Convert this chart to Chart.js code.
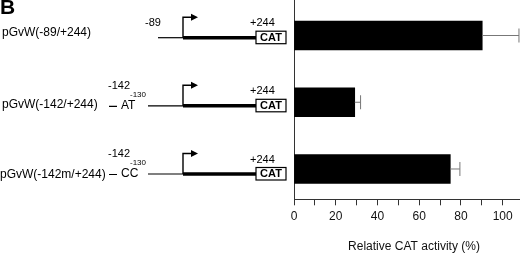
<!DOCTYPE html>
<html>
<head>
<meta charset="utf-8">
<script src="https://cdn.jsdelivr.net/npm/chart.js@4.4.1/dist/chart.umd.min.js"></script>
<style>
  html, body { margin: 0; padding: 0; background: #fff; }
  #wrap { width: 520px; height: 253px; position: relative; }
</style>
</head>
<body>
<div id="wrap"><canvas id="catChart"></canvas></div>
<script>
// constructs and measured CAT activity (% of control)
const constructs = ["pGvW(-89/+244)", "pGvW(-142/+244)", "pGvW(-142m/+244)"];
const activity = [90.2, 29.1, 74.9];
const errorPlus = [17.6, 2.8, 4.6];
const xTickValues = [0, 10, 20, 30, 40, 50, 60, 70, 80, 90, 100];
const xTickLabels = ["0", "20", "40", "60", "80", "100"];
const xTitle = "Relative CAT activity (%)";

const FONT = "'Liberation Sans', Arial, Helvetica, sans-serif";

// grey error whiskers on the right end of each bar
const errorBars = {
  id: "errorBars",
  afterDatasetsDraw(chart) {
    const { ctx, scales: { x, y } } = chart;
    ctx.save();
    ctx.strokeStyle = "#777";
    ctx.lineWidth = 1;
    activity.forEach((v, i) => {
      const x0 = x.getPixelForValue(v);
      const x1 = x.getPixelForValue(v + errorPlus[i]);
      const yc = y.getPixelForValue(i);
      ctx.beginPath();
      ctx.moveTo(x0, yc);
      ctx.lineTo(x1, yc);
      ctx.moveTo(x1, yc - 7);
      ctx.lineTo(x1, yc + 7);
      ctx.stroke();
    });
    // axis title sits a little right of the axis middle in the original
    ctx.fillStyle = "#111";
    ctx.font = "12px " + FONT;
    ctx.textAlign = "center";
    ctx.textBaseline = "middle";
    ctx.fillText(xTitle, 414, 247);
    ctx.restore();
  }
};

// construct maps drawn left of the bars
const constructMaps = {
  id: "constructMaps",
  afterDraw(chart) {
    const ctx = chart.ctx;
    const lineY = [37.7, 105.8, 174];
    const labelY = [33, 105, 175];
    const labelX = [2, 2, 0];
    ctx.save();
    ctx.fillStyle = "#000";
    ctx.strokeStyle = "#000";
    ctx.textBaseline = "middle";

    ctx.font = "bold 21px " + FONT;
    ctx.textAlign = "left";
    ctx.fillText("B", 0, 8.5);

    constructs.forEach((name, i) => {
      const ly = lineY[i];
      ctx.font = "12px " + FONT;
      ctx.textAlign = "left";
      ctx.fillText(name, labelX[i], labelY[i]);

      // upstream part
      ctx.lineWidth = 1.2;
      ctx.beginPath();
      if (i === 0) {
        ctx.moveTo(158, ly);
        ctx.lineTo(183, ly);
      } else {
        ctx.moveTo(109, ly + 0.5);
        ctx.lineTo(117, ly + 0.5);
        ctx.moveTo(148, ly);
        ctx.lineTo(183, ly);
      }
      ctx.stroke();

      if (i === 0) {
        ctx.font = "11px " + FONT;
        ctx.fillText("-89", 145, ly - 14.5);
      } else {
        ctx.font = "11px " + FONT;
        ctx.fillText("-142", 108, ly - 20);
        ctx.font = "8px " + FONT;
        ctx.fillText("-130", 130, ly - 11.5);
        ctx.font = "12px " + FONT;
        ctx.fillText(i === 1 ? "AT" : "CC", 121, ly);
      }

      // transcribed region
      ctx.lineWidth = 3.5;
      ctx.beginPath();
      ctx.moveTo(183, ly);
      ctx.lineTo(256, ly);
      ctx.stroke();

      // start site arrow
      ctx.lineWidth = 1.4;
      ctx.beginPath();
      ctx.moveTo(183, ly);
      ctx.lineTo(183, ly - 20.5);
      ctx.lineTo(192, ly - 20.5);
      ctx.stroke();
      ctx.beginPath();
      ctx.moveTo(198, ly - 20.5);
      ctx.lineTo(191, ly - 24);
      ctx.lineTo(191, ly - 17);
      ctx.closePath();
      ctx.fill();

      ctx.font = "11px " + FONT;
      ctx.fillText("+244", 250, ly - 14.5);

      // CAT box
      ctx.fillStyle = "#fff";
      ctx.fillRect(256, ly - 6.5, 30, 12.5);
      ctx.fillStyle = "#000";
      ctx.lineWidth = 1.2;
      ctx.strokeRect(256, ly - 6.5, 30, 12.5);
      ctx.font = "bold 11px " + FONT;
      ctx.textAlign = "center";
      ctx.fillText("CAT", 271, ly);
    });
    ctx.restore();
  }
};

new Chart(document.getElementById("catChart"), {
  type: "bar",
  data: {
    datasets: [{
      data: activity.map((v, i) => ({ x: v, y: i })),
      backgroundColor: "#000",
      borderWidth: 0,
      barThickness: 29
    }]
  },
  options: {
    indexAxis: "y",
    responsive: true,
    maintainAspectRatio: false,
    animation: false,
    layout: { padding: { left: 294, right: 0, top: 0, bottom: 0 } },
    plugins: { legend: { display: false }, tooltip: { enabled: false } },
    scales: {
      y: {
        type: "linear",
        reverse: true,
        offset: false,
        min: -0.532,
        max: 2.454,
        afterFit: (s) => { s.width = 0; },
        grid: { display: false },
        ticks: { display: false },
        border: { display: true, color: "#333", width: 1 }
      },
      x: {
        type: "linear",
        min: 0,
        max: 108.3,
        afterBuildTicks: (s) => { s.ticks = xTickValues.map((v) => ({ value: v })); },
        afterFit: (s) => { s.height = 53.7; },
        grid: { display: true, drawOnChartArea: false, drawTicks: true, tickLength: 6, color: "#333" },
        border: { display: true, color: "#333", width: 1 },
        ticks: {
          padding: 4,
          maxRotation: 0,
          autoSkip: false,
          color: "#111",
          font: { family: FONT, size: 12 },
          callback: (v) => (v % 20 === 0 ? xTickLabels[v / 20] : "")
        },
        title: { display: false }
      }
    }
  },
  plugins: [errorBars, constructMaps]
});
</script>
</body>
</html>
